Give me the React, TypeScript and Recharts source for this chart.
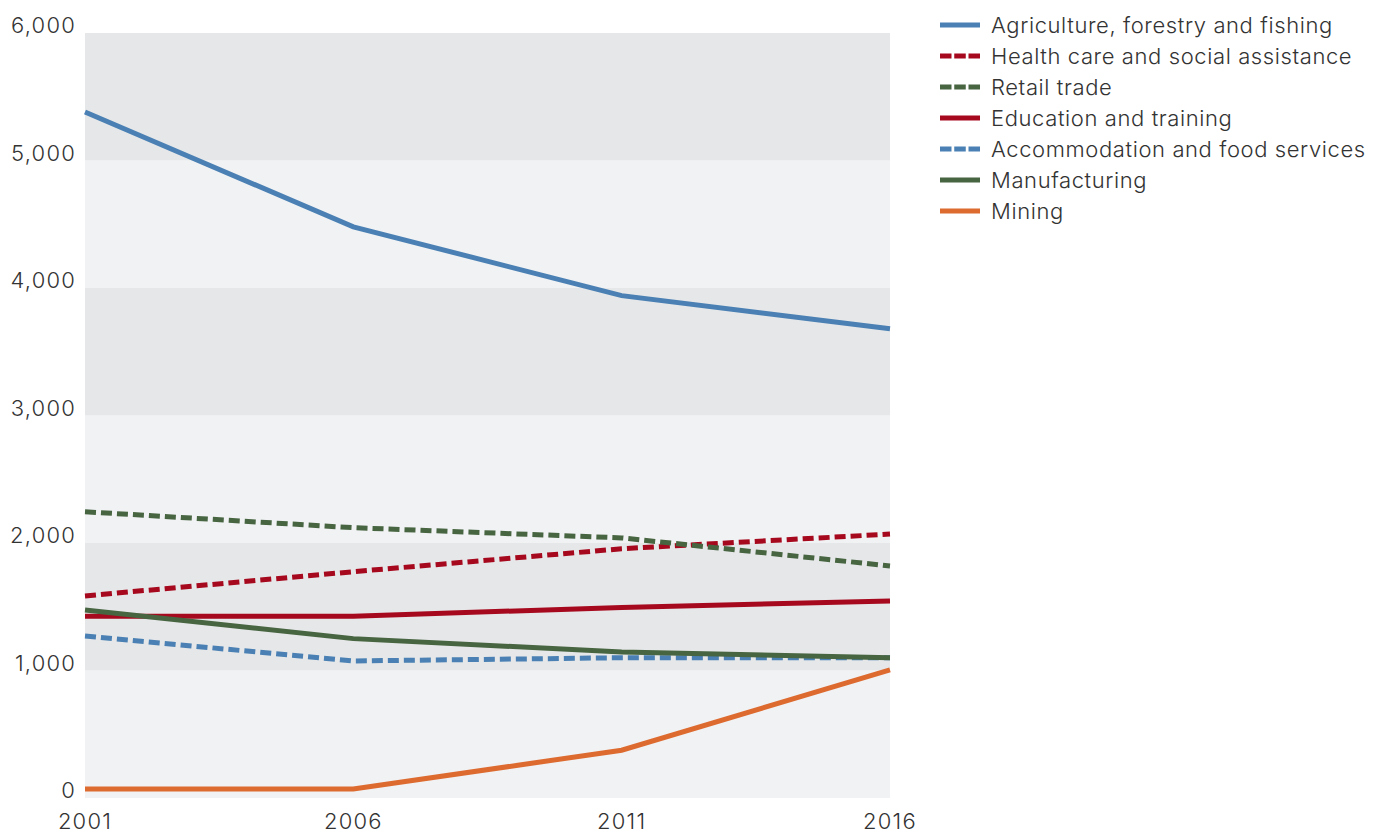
import {
  CartesianGrid,
  Line,
  LineChart,
  ReferenceArea,
  XAxis,
  YAxis,
} from "recharts";

const years = ["2001", "2006", "2011", "2016"];

const agriculture = [5380, 4480, 3940, 3680];
const healthCare = [1585, 1775, 1955, 2070];
const retail = [2245, 2120, 2040, 1820];
const education = [1425, 1425, 1495, 1545];
const accommodation = [1270, 1075, 1100, 1100];
const manufacturing = [1475, 1250, 1145, 1100];
const mining = [70, 70, 375, 1005];

const yTicks = [0, 1000, 2000, 3000, 4000, 5000, 6000];

const series = [
  { key: "agriculture", name: "Agriculture, forestry and fishing", values: agriculture, color: "#4a80b3", dashed: false },
  { key: "healthCare", name: "Health care and social assistance", values: healthCare, color: "#a6091d", dashed: true },
  { key: "retail", name: "Retail trade", values: retail, color: "#476540", dashed: true },
  { key: "education", name: "Education and training", values: education, color: "#a6091d", dashed: false },
  { key: "accommodation", name: "Accommodation and food services", values: accommodation, color: "#4a80b3", dashed: true },
  { key: "manufacturing", name: "Manufacturing", values: manufacturing, color: "#476540", dashed: false },
  { key: "mining", name: "Mining", values: mining, color: "#dd6a2f", dashed: false },
];

const data = years.map((year, i) => {
  const row: Record<string, string | number> = { year };
  series.forEach((s) => {
    row[s.key] = s.values[i];
  });
  return row;
});

const FONT = "Inter, 'Open Sans', sans-serif";
const TEXT = "#333333";

const YTick = ({ x, y, payload }: any) => (
  <text x={x + 1} y={y} textAnchor="end" fill={TEXT} fontSize={22} fontWeight={300} fontFamily={FONT} letterSpacing={1.2}>
    {payload.value.toLocaleString("en-US")}
  </text>
);

const XTick = ({ x, y, payload }: any) => (
  <text x={x} y={y} dy={23} textAnchor="middle" fill={TEXT} fontSize={22} fontWeight={300} fontFamily={FONT} letterSpacing={1.2}>
    {payload.value}
  </text>
);

const LegendList = () => (
  <div
    style={{
      position: "absolute",
      left: 932,
      top: 1,
      fontFamily: FONT,
      fontSize: 22,
      fontWeight: 300,
      letterSpacing: 0.6,
      color: TEXT,
      whiteSpace: "nowrap",
    }}
  >
    {series.map((s) => (
      <div key={s.key} style={{ display: "flex", alignItems: "center", height: 31 }}>
        <svg width={40} height={8} style={{ marginRight: 11 }}>
          <line
            x1={0}
            y1={4}
            x2={40}
            y2={4}
            stroke={s.color}
            strokeWidth={5}
            strokeDasharray={s.dashed ? "11.5 2.75" : undefined}
          />
        </svg>
        <span>{s.name}</span>
      </div>
    ))}
  </div>
);

export default function App() {
  return (
    <div style={{ position: "relative", width: 1361, height: 826 }}>
      <LineChart
        width={1361}
        height={826}
        data={data}
        margin={{ top: 25, right: 479, bottom: 6, left: 0 }}
      >
        {yTicks.slice(0, -1).map((t, i) => (
          <ReferenceArea
            key={t}
            y1={t}
            y2={yTicks[i + 1]}
            fill={i % 2 === 0 ? "#f1f2f4" : "#e6e7e9"}
            fillOpacity={1}
            stroke="none"
            ifOverflow="visible"
          />
        ))}
        <CartesianGrid stroke="#ffffff" strokeWidth={1.5} />
        <XAxis
          dataKey="year"
          axisLine={false}
          tickLine={false}
          tick={<XTick />}
          height={30}
          interval={0}
        />
        <YAxis
          domain={[0, 6000]}
          ticks={yTicks}
          axisLine={false}
          tickLine={false}
          tick={<YTick />}
          tickMargin={4}
          width={77}
          interval={0}
        />
        {series.map((s) => (
          <Line
            key={s.key}
            dataKey={s.key}
            name={s.name}
            type="linear"
            stroke={s.color}
            strokeWidth={5}
            strokeDasharray={s.dashed ? "11 5" : undefined}
            dot={false}
            activeDot={false}
            isAnimationActive={false}
          />
        ))}
      </LineChart>
      <LegendList />
    </div>
  );
}
